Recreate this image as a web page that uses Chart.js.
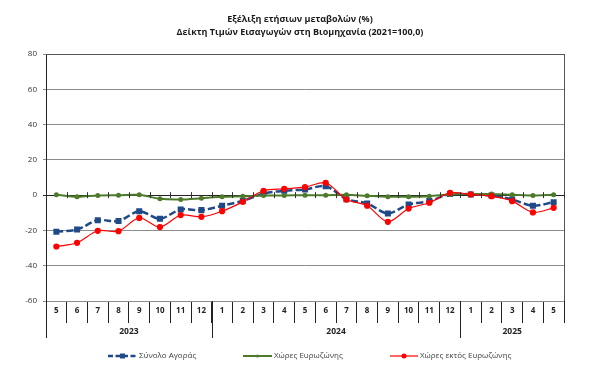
<!DOCTYPE html>
<html><head><meta charset="utf-8">
<script src="https://cdn.jsdelivr.net/npm/chart.js@4/dist/chart.umd.min.js"></script>
<style>html,body{margin:0;padding:0;background:#fff}#wrap{width:600px;height:381px}</style>
</head><body><div id="wrap"><canvas id="c" width="600" height="381"></canvas></div>
<script>
const months = ['5','6','7','8','9','10','11','12','1','2','3','4','5','6','7','8','9','10','11','12','1','2','3','4','5'];
const years = ['2023','2024','2025'];
const yearSpans = [8, 12, 5];
const totalMarket = [-20.8,-19.5,-14.2,-14.7,-9.1,-13.4,-8.1,-8.5,-6.0,-3.2,0.9,2.5,3.2,5.1,-2.3,-4.7,-10.4,-5.3,-3.4,0.6,0.4,-0.2,-2.5,-6.0,-4.0];
const euroArea = [0.2,-0.9,-0.2,0,0.2,-2.1,-2.5,-1.7,-0.9,-0.6,-0.2,-0.2,0,0,0.2,-0.4,-0.9,-0.9,-0.6,0.4,0.6,0.6,0.2,-0.2,0.2];
const nonEuroArea = [-29.1,-27.0,-20.2,-20.4,-12.9,-18.1,-11.3,-12.3,-9.1,-3.8,2.5,3.6,4.5,7.0,-2.5,-6.0,-15.1,-7.6,-4.3,1.3,0.4,-0.6,-3.4,-9.8,-7.2];
const seriesNames = ['Σύνολο Αγοράς','Χώρες Ευρωζώνης','Χώρες εκτός Ευρωζώνης'];
const titleLines = ['Εξέλιξη ετήσιων μεταβολών (%)','Δείκτη Τιμών Εισαγωγών στη Βιομηχανία (2021=100,0)'];
const yMin = -60, yMax = 80, yStep = 20;

const FONT = '"Open Sans", "Noto Sans", sans-serif';
const BLUE = '#1F4A87', GREEN = '#4E7A2C', RED = '#FF0000';

const extras = {
  id: 'extras',
  afterDraw(chart) {
    const ctx = chart.ctx, x = chart.scales.x, y = chart.scales.y, a = chart.chartArea;
    const half = (x.getPixelForValue(1) - x.getPixelForValue(0)) / 2;
    const bnd = i => x.getPixelForValue(i) - half;
    ctx.save();
    // plot borders
    ctx.strokeStyle = '#555'; ctx.lineWidth = 1;
    ctx.beginPath();
    ctx.moveTo(a.left, Math.round(a.top) + 0.5); ctx.lineTo(a.right, Math.round(a.top) + 0.5);
    ctx.moveTo(Math.round(a.right) + 0.5, a.top); ctx.lineTo(Math.round(a.right) + 0.5, a.bottom);
    ctx.stroke();
    // zero-line ticks
    const y0 = y.getPixelForValue(0);
    ctx.strokeStyle = '#333';
    ctx.beginPath();
    for (let i = 0; i <= months.length; i++) {
      const px = Math.round(bnd(i)) + 0.5;
      ctx.moveTo(px, y0 - 3); ctx.lineTo(px, y0 + 3);
    }
    ctx.stroke();
    // year rows
    const rowBottom = a.bottom + 37;
    ctx.strokeStyle = '#222';
    ctx.beginPath();
    let idx = 0;
    const bounds = [0];
    yearSpans.forEach(s => { idx += s; bounds.push(idx); });
    bounds.forEach((b, k) => {
      if (k === bounds.length - 1) return;
      const px = Math.round(bnd(b)) + 0.5;
      ctx.moveTo(px, a.bottom); ctx.lineTo(px, rowBottom);
    });
    ctx.stroke();
    ctx.fillStyle = '#222';
    ctx.font = 'bold 8.5px ' + FONT;
    ctx.textAlign = 'center'; ctx.textBaseline = 'middle';
    years.forEach((yr, k) => {
      const cx = (bnd(bounds[k]) + bnd(bounds[k + 1])) / 2;
      ctx.fillText(yr, cx, a.bottom + 31);
    });
    // title
    ctx.font = 'bold 9px ' + FONT;
    ctx.fillStyle = '#1a1a1a';
    ctx.fillText(titleLines[0], 300, 19);
    ctx.fillText(titleLines[1], 300, 32);
    // legend
    const ly = 356;
    ctx.font = '8px ' + FONT;
    ctx.textAlign = 'left';
    const items = [
      {x0: 108, x1: 137, color: BLUE, w: 2.5, dash: [5, 2.5], marker: 'rect', r: 2.5, label: seriesNames[0]},
      {x0: 243, x1: 272, color: GREEN, w: 2, dash: [], marker: 'circle', r: 1.5, label: seriesNames[1]},
      {x0: 390, x1: 418, color: RED, w: 1.2, dash: [], marker: 'circle', r: 2.5, label: seriesNames[2]}
    ];
    items.forEach(it => {
      ctx.strokeStyle = it.color; ctx.lineWidth = it.w; ctx.setLineDash(it.dash);
      ctx.beginPath(); ctx.moveTo(it.x0, ly); ctx.lineTo(it.x1, ly); ctx.stroke();
      ctx.setLineDash([]);
      ctx.fillStyle = it.color;
      const cx = (it.x0 + it.x1) / 2;
      if (it.marker === 'rect') ctx.fillRect(cx - it.r, ly - it.r, it.r * 2, it.r * 2);
      else { ctx.beginPath(); ctx.arc(cx, ly, it.r, 0, Math.PI * 2); ctx.fill(); }
      ctx.fillStyle = '#404040';
      ctx.fillText(it.label, it.x1 + 2, ly);
    });
    ctx.restore();
  }
};

new Chart(document.getElementById('c'), {
  type: 'line',
  data: {
    labels: months,
    datasets: [
      {label: seriesNames[0], data: totalMarket, borderColor: BLUE, backgroundColor: BLUE, borderWidth: 2.5,
       borderDash: [7, 3], pointStyle: 'rect', pointRadius: 2.5, tension: 0.3, order: 3},
      {label: seriesNames[1], data: euroArea, borderColor: GREEN, backgroundColor: GREEN, borderWidth: 2,
       pointStyle: 'circle', pointRadius: 1.5, tension: 0.3, order: 2},
      {label: seriesNames[2], data: nonEuroArea, borderColor: RED, backgroundColor: RED, borderWidth: 1.2,
       pointStyle: 'circle', pointRadius: 2.5, tension: 0.3, order: 1}
    ]
  },
  options: {
    responsive: false,
    animation: false,
    devicePixelRatio: 1,
    layout: {padding: {left: 0, right: 36, top: 54, bottom: 0}},
    plugins: {legend: {display: false}, title: {display: false}, tooltip: {enabled: false}},
    elements: {point: {borderWidth: 0}},
    scales: {
      x: {
        offset: true,
        grid: {display: true, offset: true, drawOnChartArea: false, drawTicks: true, tickLength: 22, color: '#222', lineWidth: 1},
        border: {display: false},
        ticks: {padding: -17, autoSkip: false, maxRotation: 0, color: '#222', font: {family: FONT, size: 8, weight: 'bold'}},
        afterFit: s => { s.height = 80; }
      },
      y: {
        min: yMin, max: yMax,
        ticks: {stepSize: yStep, padding: 6, color: '#333', font: {family: FONT, size: 8}},
        grid: {color: c => (c.tick && c.tick.value === 0) ? '#222' : '#8c8c8c', lineWidth: 1, tickLength: 3},
        border: {display: true, color: '#222', width: 1},
        afterFit: s => { s.width = 46; }
      }
    }
  },
  plugins: [extras]
});
</script>
</body></html>
